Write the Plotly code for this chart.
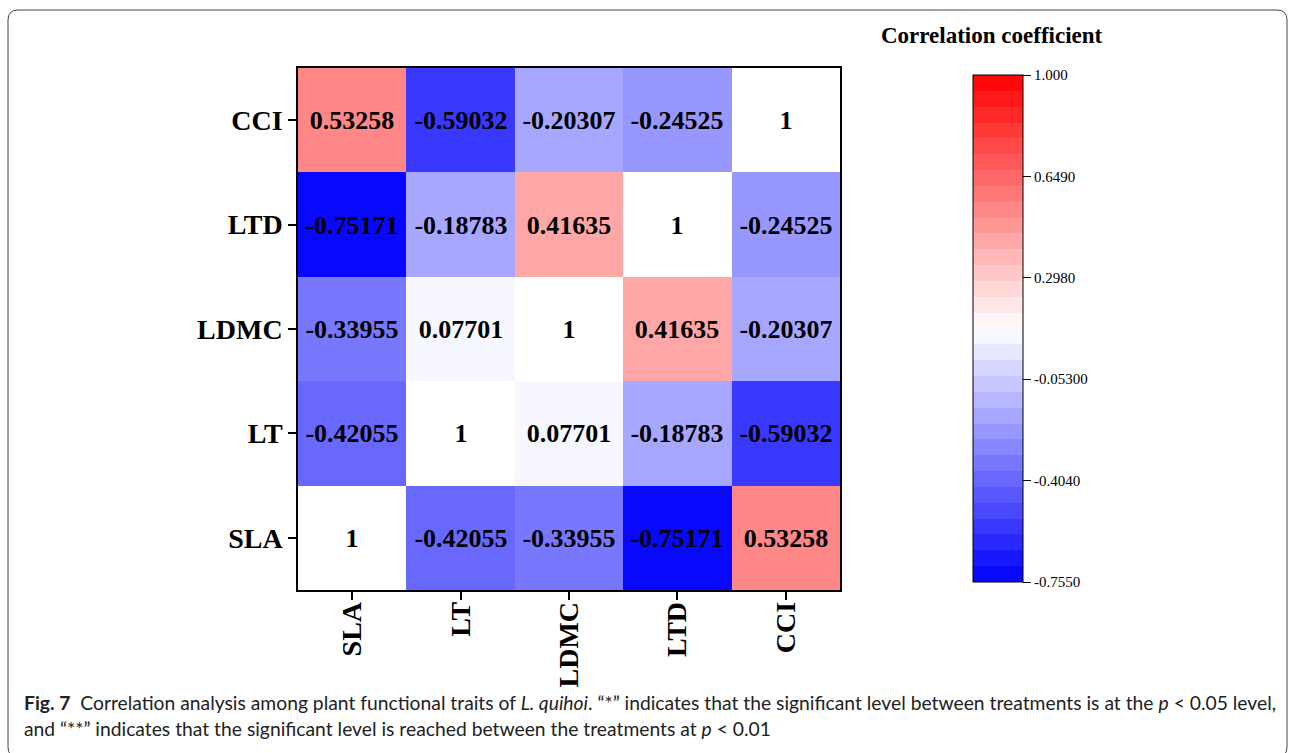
import plotly.graph_objects as go

# ---------------- data ----------------
traits = ["SLA", "LT", "LDMC", "LTD", "CCI"]
row_SLA = [1, -0.42055, -0.33955, -0.75171, 0.53258]
row_LT = [-0.42055, 1, 0.07701, -0.18783, -0.59032]
row_LDMC = [-0.33955, 0.07701, 1, 0.41635, -0.20307]
row_LTD = [-0.75171, -0.18783, 0.41635, 1, -0.24525]
row_CCI = [0.53258, -0.59032, -0.20307, -0.24525, 1]
cbar_ticks = [-0.755, -0.404, -0.053, 0.298, 0.649, 1.0]
cbar_ticktext = ["-0.7550", "-0.4040", "-0.05300", "0.2980", "0.6490", "1.000"]
zmin, zmax = -0.755, 1.0
n_levels = 32

matrix = [row_SLA, row_LT, row_LDMC, row_LTD, row_CCI]

# ---------------- helpers ----------------
def bwr(t):
    if t <= 0.5:
        v = 2 * t
        r, g, b = v, v, 1.0
    else:
        v = 2 * (1 - t)
        r, g, b = 1.0, v, v
    return "rgb(%d,%d,%d)" % (round(r * 255), round(g * 255), round(b * 255))

colorscale = []
for i in range(n_levels):
    c = bwr((i + 0.5) / n_levels)
    colorscale.append([i / n_levels, c])
    colorscale.append([(i + 1) / n_levels, c])

z_off = [[None if i == j else matrix[i][j] for j in range(5)] for i in range(5)]
z_diag = [[1 if i == j else None for j in range(5)] for i in range(5)]
text_off = [["" if i == j else "%.5f" % matrix[i][j] for j in range(5)] for i in range(5)]
text_diag = [["%g" % matrix[i][j] if i == j else "" for j in range(5)] for i in range(5)]

W, H = 1290, 753
L, R, T, B = 298, 840, 68, 590
pw, ph = R - L, B - T

def px(x):
    return (x - L) / pw

def py(y):
    return (B - y) / ph

SERIF = "Liberation Serif, Times New Roman, serif"
SANS = "Lato, sans-serif"

fig = go.Figure()
fig.add_trace(go.Heatmap(
    x=traits, y=traits, z=z_off, zmin=zmin, zmax=zmax,
    colorscale=colorscale, text=text_off, texttemplate="%{text}",
    textfont=dict(family=SERIF, size=26, color="black", weight="bold"),
    hoverinfo="skip",
    colorbar=dict(
        x=px(973), xanchor="left", xref="paper", xpad=0, ypad=0,
        y=py(75), yanchor="top", len=507, lenmode="pixels",
        thickness=50, thicknessmode="pixels",
        outlinecolor="black", outlinewidth=1,
        tickvals=cbar_ticks, ticktext=cbar_ticktext,
        ticks="outside", ticklen=8, tickwidth=1, tickcolor="black",
        tickfont=dict(family=SERIF, size=15, color="black"),
    ),
))
fig.add_trace(go.Heatmap(
    x=traits, y=traits, z=z_diag, zmin=0, zmax=1,
    colorscale=[[0, "white"], [1, "white"]], showscale=False,
    text=text_diag, texttemplate="%{text}",
    textfont=dict(family=SERIF, size=26, color="black", weight="bold"),
    hoverinfo="skip",
))

axis_common = dict(
    showline=True, linecolor="black", linewidth=1.5, mirror=True,
    ticks="outside", ticklen=8, tickwidth=1.5, tickcolor="black",
    tickfont=dict(family=SERIF, size=28, color="black", weight="bold"),
    showgrid=False, zeroline=False, fixedrange=True,
)
fig.update_xaxes(**axis_common, tickangle=-90, ticklabelstandoff=-9)
fig.update_yaxes(**axis_common)

# rounded frame
def rounded(x0, y0, x1, y1, r):
    rx, ry = r / pw, r / ph
    X0, X1 = px(x0), px(x1)
    Y0, Y1 = py(y0), py(y1)
    return (f"M {X0 + rx} {Y0} L {X1 - rx} {Y0} Q {X1} {Y0} {X1} {Y0 - ry} "
            f"L {X1} {Y1 + ry} Q {X1} {Y1} {X1 - rx} {Y1} "
            f"L {X0 + rx} {Y1} Q {X0} {Y1} {X0} {Y1 + ry} "
            f"L {X0} {Y0 - ry} Q {X0} {Y0} {X0 + rx} {Y0} Z")

fig.add_shape(type="path", xref="paper", yref="paper",
              path=rounded(8, 10, 1287, 757, 10),
              line=dict(color="#444444", width=1), fillcolor="rgba(0,0,0,0)")

fig.add_annotation(text="<b>Correlation coefficient</b>", xref="paper", yref="paper",
                   x=px(992), y=py(36), xanchor="center", yanchor="middle",
                   showarrow=False, font=dict(family=SERIF, size=23, color="black"))

cap1 = ("<b>Fig. 7</b>  Correlation analysis among plant functional traits of <i>L. quihoi</i>."
        " “*” indicates that the significant level between treatments is at the <i>p</i> &lt; 0.05 level,")
cap2 = "and “**” indicates that the significant level is reached between the treatments at <i>p</i> &lt; 0.01"
fig.add_annotation(text=cap1, xref="paper", yref="paper", x=px(22), y=py(702),
                   xanchor="left", yanchor="middle", showarrow=False,
                   font=dict(family=SANS, size=19.3, color="#222222"))
fig.add_annotation(text=cap2, xref="paper", yref="paper", x=px(22), y=py(728),
                   xanchor="left", yanchor="middle", showarrow=False,
                   font=dict(family=SANS, size=19.3, color="#222222"))

fig.update_layout(
    width=W, height=H,
    margin=dict(l=L, r=W - R, t=T, b=H - B, autoexpand=False),
    paper_bgcolor="white", plot_bgcolor="white",
    showlegend=False,
)

fig.write_html("out.html")
